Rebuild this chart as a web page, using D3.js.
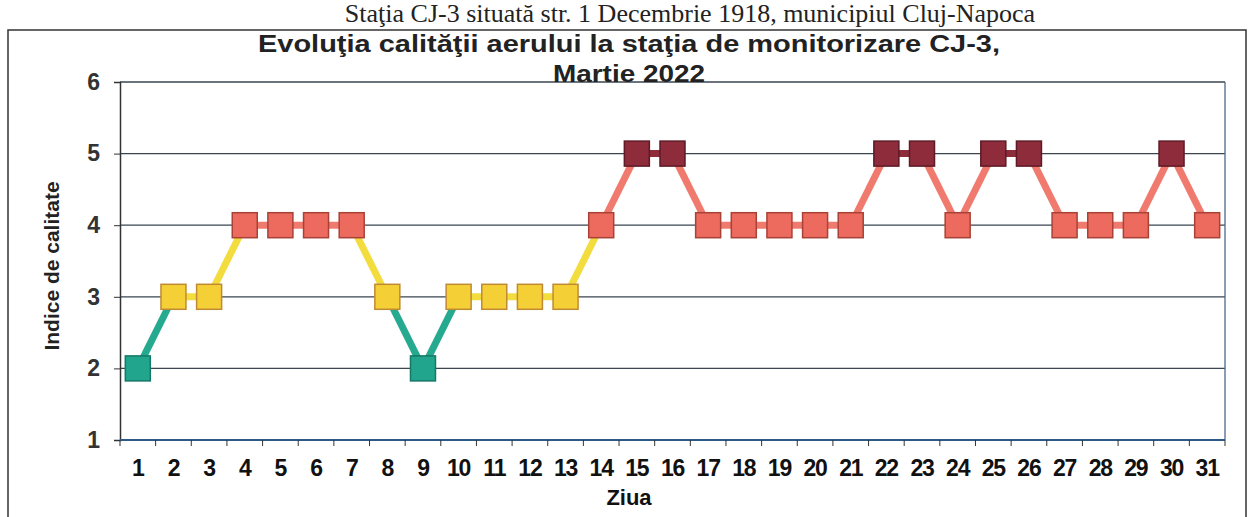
<!DOCTYPE html>
<html>
<head>
<meta charset="utf-8">
<script src="https://cdn.jsdelivr.net/npm/d3@7"></script>
<style>
  body { margin: 0; background: #fff; }
  svg { display: block; font-family: "Liberation Sans", Arial, sans-serif; }
</style>
</head>
<body>
<div id="chart"></div>
<script>
/** chart data */
let days = d3.range(1, 32).map(String);
let indexValues = [2, 3, 3, 4, 4, 4, 4, 3, 2, 3, 3, 3, 3, 4, 5, 5, 4, 4, 4, 4, 4, 5, 5, 4, 5, 5, 4, 4, 4, 5, 4];
let yTicks = [1, 2, 3, 4, 5, 6];
let titleLines = ["Evoluţia calităţii aerului la staţia de monitorizare CJ-3,", "Martie 2022"];
let titleWidths = [742, 152];

/** colours per index level */
let fillByLevel = { 2: "#21a58c", 3: "#f4cf35", 4: "#ec6a5e", 5: "#8e2c3c" };
let strokeByLevel = { 2: "#167866", 3: "#c08a34", 4: "#a84236", 5: "#5e1a26" };
let lineByLevel = { 2: "#25a98f", 3: "#f2dc3e", 4: "#f07a6e", 5: "#8e2c3c" };

let width = 1250, height = 517;
let margin = { left: 120, right: 25, top: 82, bottom: 77 };

let svg = d3.select("#chart").append("svg")
  .attr("width", width)
  .attr("height", height);

// scanned page header above the chart frame
svg.append("text")
  .attr("x", 690).attr("y", 22)
  .attr("text-anchor", "middle")
  .style("font-family", "'Liberation Serif', serif")
  .style("font-size", "26px")
  .style("fill", "#222")
  .text("Staţia CJ-3 situată str. 1 Decembrie 1918, municipiul Cluj-Napoca");

// outer frame
svg.append("path")
  .attr("d", "M8,517 V30 H1246 V517")
  .attr("fill", "none")
  .attr("stroke", "#333")
  .attr("stroke-width", 1.5);

let x = d3.scaleBand()
  .domain(days)
  .range([margin.left, width - margin.right]);

let y = d3.scaleLinear()
  .domain([1, 6])
  .range([height - margin.bottom, margin.top]);

// horizontal grid
svg.append("g")
  .selectAll("line")
  .data(yTicks.filter(d => d > 1))
  .join("line")
  .attr("x1", margin.left)
  .attr("x2", width - margin.right)
  .attr("y1", d => y(d))
  .attr("y2", d => y(d))
  .attr("stroke", "#3a4550")
  .attr("stroke-width", 1.3);

// right plot border
svg.append("line")
  .attr("x1", width - margin.right).attr("x2", width - margin.right)
  .attr("y1", y(6)).attr("y2", y(1))
  .attr("stroke", "#4a6a8a").attr("stroke-width", 1.3);

// y axis
let yAxis = svg.append("g")
  .attr("transform", `translate(${margin.left},0)`)
  .call(d3.axisLeft(y).tickValues(yTicks).tickFormat(d3.format("d")).tickSize(6).tickPadding(14));
yAxis.select(".domain").attr("stroke", "#333").attr("stroke-width", 1.5);
yAxis.selectAll(".tick line").attr("stroke", "#333");
yAxis.selectAll(".tick text")
  .style("font-size", "23px")
  .style("font-weight", "bold")
  .style("fill", "#333");

// x axis with ticks between categories
let xAxisG = svg.append("g")
  .attr("transform", `translate(0,${y(1)})`);
xAxisG.append("line")
  .attr("x1", margin.left).attr("x2", width - margin.right)
  .attr("stroke", "#2c5a88").attr("stroke-width", 2);
xAxisG.selectAll(".tk")
  .data(days)
  .join("line")
  .attr("class", "tk")
  .attr("x1", d => x(d)).attr("x2", d => x(d))
  .attr("y1", 0).attr("y2", 6)
  .attr("stroke", "#333");
xAxisG.append("line")
  .attr("x1", width - margin.right).attr("x2", width - margin.right)
  .attr("y1", 0).attr("y2", 6)
  .attr("stroke", "#333");
xAxisG.selectAll(".lbl")
  .data(days)
  .join("text")
  .attr("class", "lbl")
  .attr("x", d => x(d) + x.bandwidth() / 2)
  .attr("y", 36)
  .attr("text-anchor", "middle")
  .style("font-size", "23px")
  .style("font-weight", "bold")
  .style("letter-spacing", "-1.2px")
  .style("fill", "#111")
  .text(d => d);

// axis titles
svg.append("text")
  .attr("x", 629)
  .attr("y", 505)
  .attr("text-anchor", "middle")
  .style("font-size", "22px")
  .style("font-weight", "bold")
  .style("fill", "#111")
  .text("Ziua");

svg.append("text")
  .attr("transform", `translate(59,${(y(1) + y(6)) / 2 + 5}) rotate(-90)`)
  .attr("text-anchor", "middle")
  .style("font-size", "21px")
  .style("font-weight", "bold")
  .style("fill", "#222")
  .text("Indice de calitate");

// chart title (the scan is a little stretched sideways)
svg.append("g").selectAll("text")
  .data(titleLines)
  .join("text")
  .attr("x", 629)
  .attr("y", (d, i) => 52 + i * 30)
  .attr("text-anchor", "middle")
  .attr("textLength", (d, i) => titleWidths[i])
  .attr("lengthAdjust", "spacingAndGlyphs")
  .style("font-size", "23px")
  .style("font-weight", "bold")
  .style("fill", "#222")
  .text(d => d);

// line segments, coloured by the lower level of each pair
let cx = i => x(days[i]) + x.bandwidth() / 2;
let segments = d3.pairs(indexValues.map((v, i) => ({ v, i })));
svg.append("g")
  .selectAll("line")
  .data(segments)
  .join("line")
  .attr("x1", d => cx(d[0].i))
  .attr("y1", d => y(d[0].v))
  .attr("x2", d => cx(d[1].i))
  .attr("y2", d => y(d[1].v))
  .attr("stroke", d => lineByLevel[Math.min(d[0].v, d[1].v)])
  .attr("stroke-width", 7);

// square markers
let size = 25;
svg.append("g")
  .selectAll("rect")
  .data(indexValues)
  .join("rect")
  .attr("x", (d, i) => cx(i) - size / 2)
  .attr("y", d => y(d) - size / 2)
  .attr("width", size)
  .attr("height", size)
  .attr("fill", d => fillByLevel[d])
  .attr("stroke", d => strokeByLevel[d])
  .attr("stroke-width", 1.5);
</script>
</body>
</html>
